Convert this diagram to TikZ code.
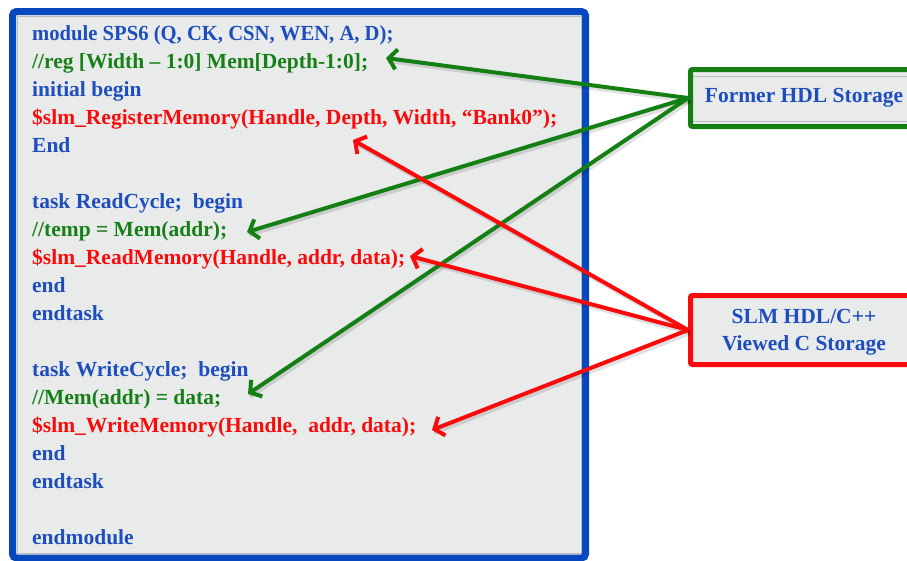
\documentclass[tikz,border=0pt]{standalone}
\usepackage{fontspec}
\setmainfont{Liberation Serif}
\usetikzlibrary{arrows.meta}
\definecolor{codeblue}{RGB}{30,78,190}
\definecolor{frameblue}{RGB}{8,72,190}
\definecolor{codegreen}{RGB}{22,128,22}
\definecolor{linegreen}{RGB}{20,128,20}
\definecolor{codered}{RGB}{250,10,10}
\definecolor{panelgray}{RGB}{233,235,235}
\definecolor{edgegray}{RGB}{185,188,190}
\tikzset{
  codeline/.style={anchor=base west, inner sep=0pt, font=\fontsize{21.5}{24}\selectfont\bfseries},
  kw/.style={codeline, text=codeblue},
  cmt/.style={codeline, text=codegreen},
  slm/.style={codeline, text=codered},
  tag/.style={font=\fontsize{21.5}{27}\selectfont\bfseries, text=codeblue, align=center},
  pointer/.style={line width=4pt, -{Straight Barb[length=8pt,width=20pt]}},
  shade/.style={line width=4pt, draw=black, opacity=0.12},
}
\begin{document}
\begin{tikzpicture}[x=1pt,y=-1pt]
\useasboundingbox (0,0) rectangle (907,560);
\clip (0,0) rectangle (907,560);

% code panel
\fill[panelgray] (12.5,11.5) rectangle (585.5,558);
\draw[edgegray, line width=1pt] (17,16) rectangle (581,553.5);
\draw[frameblue, line width=7pt, rounded corners=4pt] (12.5,11.5) rectangle (585.5,558);

% code lines
\node[kw]  (l1)  at (32,40)  {\addfontfeature{FakeStretch=0.96}module SPS6 (Q, CK, CSN, WEN, A, D);};
\node[cmt] (l2)  at (32,68)  {//reg [Width – 1:0] Mem[Depth-1:0];};
\node[kw]  (l3)  at (32,96)  {initial begin};
\node[slm] (l4)  at (32,124) {\$slm\_RegisterMemory(Handle, Depth, Width, “Bank0”);};
\node[kw]  (l5)  at (32,152) {End};
\node[kw]  (l6)  at (32,208) {task ReadCycle;\ \ begin};
\node[cmt] (l7)  at (32,236) {//temp = Mem(addr);};
\node[slm] (l8)  at (32,264) {\$slm\_ReadMemory(Handle, addr, data);};
\node[kw]  (l9)  at (32,292) {end};
\node[kw]  (l10) at (32,320) {endtask};
\node[kw]  (l11) at (32,376) {task WriteCycle;\ \ begin};
\node[cmt] (l12) at (32,404) {//Mem(addr) = data;};
\node[slm] (l13) at (32,432) {\$slm\_WriteMemory(Handle, \ addr, data);};
\node[kw]  (l14) at (32,460) {end};
\node[kw]  (l15) at (32,488) {endtask};
\node[kw]  (l16) at (32,544) {endmodule};

% storage boxes
\fill[panelgray] (690,70) rectangle (915,127);
\draw[edgegray, line width=0.8pt] (693,76) -- (915,76) (693,121) -- (915,121);
\draw[linegreen, line width=5pt, rounded corners=2pt] (690.5,69.5) rectangle (920,126.5);
\node[tag] (hdl) at (804,98) {Former HDL Storage};
\coordinate (hdlw) at (688,98);

\fill[panelgray] (690,295) rectangle (915,365);
\draw[codered, line width=5pt, rounded corners=2pt] (690.5,295.5) rectangle (920,364.5);
\node[tag] (cst) at (804,332) {SLM HDL/C++\\Viewed C Storage};
\coordinate (cstw) at (688,330);

% pointer end points beside the code lines
\coordinate (g1) at (386,58);
\coordinate (g2) at (247,232);
\coordinate (g3) at (248,394);
\coordinate (r1) at (353,140);
\coordinate (r2) at (410,256);
\coordinate (r3) at (432,430);

% soft shadows under the pointers
\foreach \t in {g1,g2,g3} \draw[shade] ([shift={(2,3)}]hdlw) -- ([shift={(2,3)}]\t);
\foreach \t in {r1,r2,r3} \draw[shade] ([shift={(2,3)}]cstw) -- ([shift={(2,3)}]\t);

% pointers
\draw[pointer, linegreen] (hdlw) -- (g1);
\draw[pointer, linegreen] (hdlw) -- (g2);
\draw[pointer, linegreen] (hdlw) -- (g3);
\draw[pointer, codered] (cstw) -- (r1);
\draw[pointer, codered] (cstw) -- (r2);
\draw[pointer, codered] (cstw) -- (r3);
\end{tikzpicture}
\end{document}
